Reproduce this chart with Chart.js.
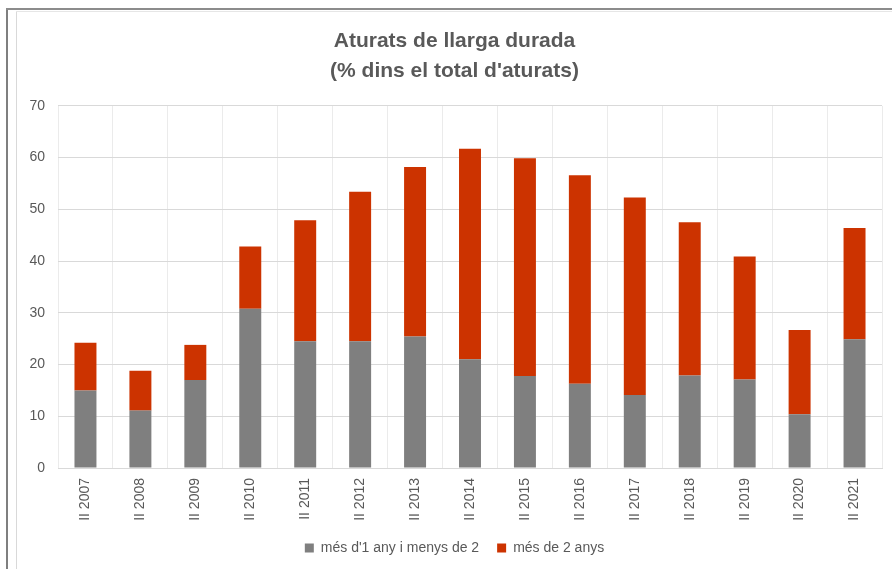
<!DOCTYPE html>
<html><head><meta charset="utf-8">
<script src="https://cdn.jsdelivr.net/npm/chart.js@4"></script>
<style>
html,body{margin:0;padding:0;background:#fff;overflow:hidden;width:892px;height:569px;}
#wrap{position:absolute;left:16px;top:0;width:884px;height:569px;}
.f{position:absolute;}
</style></head><body>
<div class="f" style="left:6px;top:8px;width:2px;height:561px;background:#7f7f7f"></div>
<div class="f" style="left:6px;top:8px;width:886px;height:2px;background:#8c8c8c"></div>
<div class="f" style="left:16px;top:11px;width:1px;height:558px;background:#d9d9d9"></div>
<div class="f" style="left:16px;top:11px;width:876px;height:1px;background:#e6e6e6"></div>
<div id="wrap"><canvas id="c" width="884" height="569"></canvas></div>
<script>
const categories = ['II 2007','II 2008','II 2009','II 2010','II 2011','II 2012','II 2013','II 2014','II 2015','II 2016','II 2017','II 2018','II 2019','II 2020','II 2021'];
const mesUnAnyMenysDos = [15.0, 11.1, 17.0, 30.8, 24.5, 24.5, 25.4, 21.0, 17.8, 16.3, 14.1, 17.9, 17.1, 10.4, 24.9];
const mesDosAnys = [9.2, 7.7, 6.8, 12.0, 23.4, 28.9, 32.8, 40.7, 42.1, 40.3, 38.2, 29.6, 23.8, 16.3, 21.5];
const yTicks = [0, 10, 20, 30, 40, 50, 60, 70];
const seriesNames = ["més d'1 any i menys de 2", 'més de 2 anys'];
const titleLines = ['Aturats de llarga durada', "(% dins el total d'aturats)"];

const FONT = "'Liberation Sans', Arial, sans-serif";
const TXT = '#595959';

new Chart(document.getElementById('c'), {
  type: 'bar',
  data: {
    labels: categories,
    datasets: [
      { label: seriesNames[0], data: mesUnAnyMenysDos, backgroundColor: '#7f7f7f', barPercentage: 0.4, categoryPercentage: 1.0 },
      { label: seriesNames[1], data: mesDosAnys, backgroundColor: '#cc3300', barPercentage: 0.4, categoryPercentage: 1.0 }
    ]
  },
  options: {
    responsive: false,
    animation: false,
    layout: { padding: { left: 11, right: 18, top: 0, bottom: 4 } },
    plugins: {
      title: {
        display: true,
        text: titleLines,
        color: TXT,
        font: { family: FONT, size: 21, weight: 'bold', lineHeight: 1.45 },
        padding: { top: 26, bottom: 19 }
      },
      legend: {
        position: 'bottom',
        labels: { color: TXT, font: { family: FONT, size: 14 }, boxWidth: 9, boxHeight: 9, padding: 18 }
      },
      tooltip: { enabled: false }
    },
    scales: {
      x: {
        stacked: true,
        grid: { color: '#ebebeb', drawTicks: false },
        border: { color: '#d9d9d9' },
        ticks: { color: TXT, font: { family: FONT, size: 14 }, minRotation: 90, maxRotation: 90, padding: 10 },
        afterFit: s => { s.height = 55; }
      },
      y: {
        stacked: true,
        min: 0, max: 70,
        afterBuildTicks: s => { s.ticks = yTicks.map(v => ({ value: v })); },
        grid: { color: '#d9d9d9', drawTicks: false },
        border: { display: false },
        ticks: { color: TXT, font: { family: FONT, size: 14 }, padding: 13 },
        afterFit: s => { s.width = 31; }
      }
    }
  }
});
</script>
</body></html>
